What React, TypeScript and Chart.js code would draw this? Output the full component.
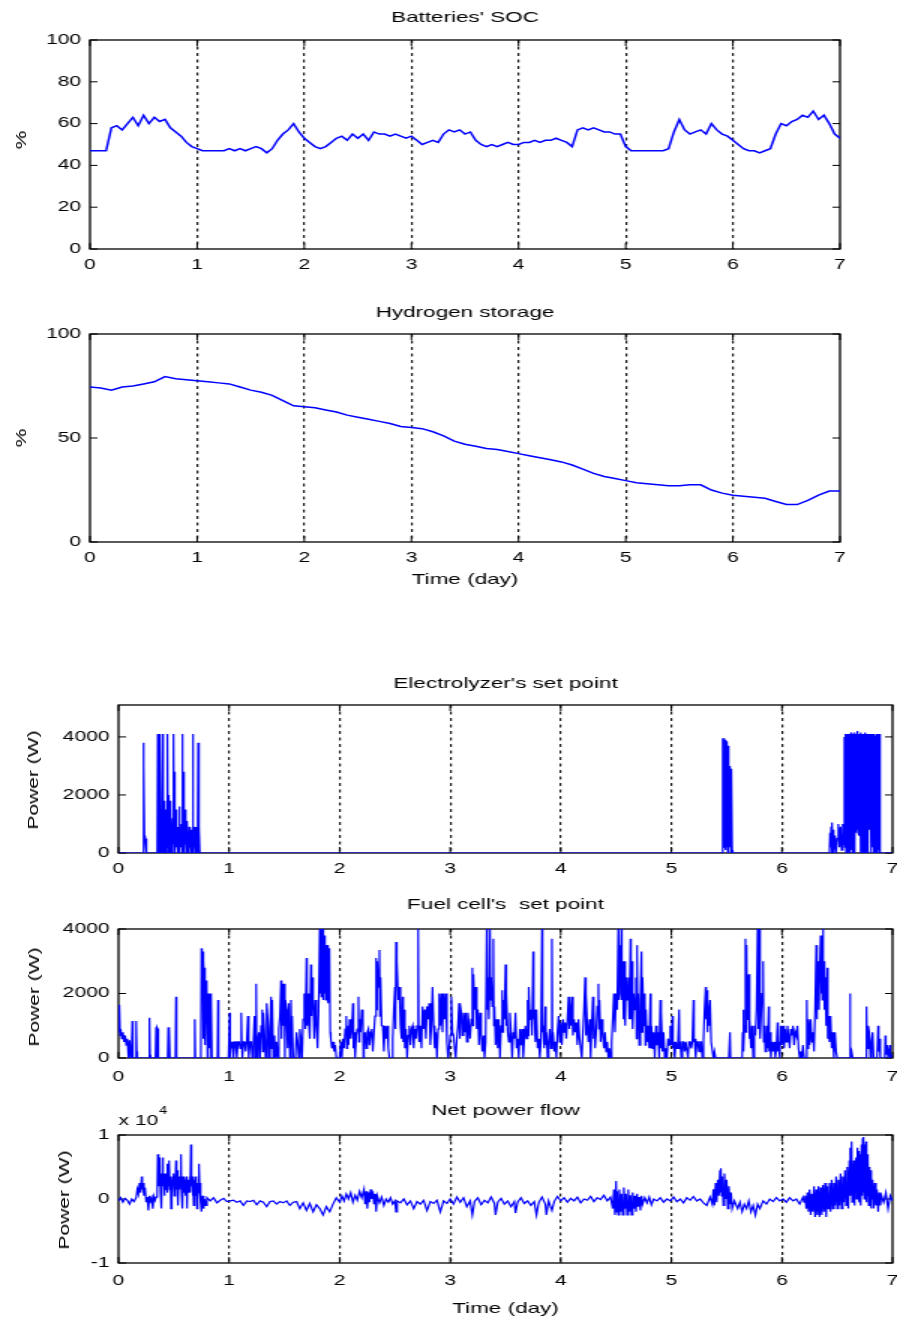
import React, { useEffect, useRef } from "react";
import { Chart, registerables } from "chart.js";

Chart.register(...registerables);

const FONT = "'Liberation Sans', Arial, Helvetica, sans-serif";
const CSS_W = 897;
const CANVAS_W = 598;
const SX = CSS_W / CANVAS_W;

// ---------------- data ----------------
const dayTicks = [0, 1, 2, 3, 4, 5, 6, 7];

const socStep = 0.05; // day
const socValues = [
  47, 47, 47, 47, 58, 59, 57, 60, 63, 59, 64, 60, 63, 61, 62, 58, 56, 54, 51, 49,
  48, 47, 47, 47, 47, 47, 48, 47, 48, 47, 48, 49, 48, 46, 48, 52, 55, 57, 60, 56,
  53, 51, 49, 48, 49, 51, 53, 54, 52, 55, 53, 55, 52, 56, 55, 55, 54, 55, 54, 53,
  54, 52, 50, 51, 52, 51, 55, 57, 56, 57, 55, 56, 52, 50, 49, 50, 49, 50, 51, 50,
  50, 51, 51, 52, 51, 52, 52, 53, 52, 51, 49, 57, 58, 57, 58, 57, 56, 56, 55, 55,
  49, 47, 47, 47, 47, 47, 47, 47, 48, 56, 62, 57, 55, 56, 57, 55, 60, 57, 55, 54,
  52, 50, 48, 47, 47, 46, 47, 48, 55, 60, 59, 61, 62, 64, 63, 66, 62, 64, 60, 55,
  53,
];

const h2Step = 0.1; // day
const h2Values = [
  74.5, 74, 73, 74.5, 75, 76, 77, 79.5, 78.5, 78,
  77.5, 77, 76.5, 76, 74.5, 73, 72, 70.5, 68, 65.5,
  65, 64.5, 63.5, 62.5, 61, 60, 59, 58, 57, 55.5,
  55, 54.5, 53, 51, 48.5, 47, 46, 45, 44.5, 43.5,
  42.5, 41.5, 40.5, 39.5, 38.5, 37, 35, 33, 31.5, 30.5,
  29.5, 28.5, 28, 27.5, 27, 27, 27.5, 27.5, 25, 23.5,
  22.5, 22, 21.5, 21, 19.5, 18, 18, 20, 22.5, 24.5,
  24.5,
];

// [day, W]
const elecSamples = [
  [0, 0], [0.22, 0], [0.225, 3800], [0.23, 3000], [0.235, 500], [0.24, 600], [0.245, 300], [0.25, 500], [0.255, 0],
  [0.35, 0], [0.355, 4100], [0.358, 0], [0.36, 600], [0.365, 4100], [0.368, 300], [0.37, 2900], [0.375, 4100], [0.378, 0],
  [0.38, 500], [0.385, 1200], [0.388, 0], [0.39, 600], [0.4, 4100], [0.403, 0], [0.405, 700], [0.41, 1800], [0.415, 0],
  [0.42, 500], [0.425, 0], [0.43, 1500], [0.435, 200], [0.44, 400], [0.445, 4100], [0.448, 0], [0.45, 2000], [0.455, 300],
  [0.46, 900], [0.465, 0], [0.47, 1800], [0.475, 200], [0.48, 600], [0.485, 0], [0.49, 1200], [0.495, 300], [0.5, 4100],
  [0.503, 0], [0.505, 2800], [0.51, 1100], [0.515, 0], [0.52, 1500], [0.525, 200], [0.53, 500], [0.535, 0], [0.54, 900],
  [0.545, 100], [0.55, 1600], [0.555, 0], [0.56, 700], [0.565, 200], [0.57, 1000], [0.575, 0], [0.58, 4100], [0.583, 0],
  [0.585, 2800], [0.59, 1200], [0.595, 0], [0.6, 1500], [0.605, 300], [0.61, 800], [0.615, 0], [0.62, 1100], [0.625, 100],
  [0.63, 600], [0.635, 0], [0.64, 900], [0.645, 200], [0.65, 500], [0.655, 0], [0.66, 800], [0.665, 100], [0.67, 300],
  [0.675, 4100], [0.678, 0], [0.68, 900], [0.685, 200], [0.69, 700], [0.695, 0], [0.7, 900], [0.705, 100], [0.71, 600],
  [0.715, 0], [0.72, 3800], [0.725, 1600], [0.728, 0], [0.73, 900], [0.735, 0],
  [5.46, 0], [5.465, 3950], [5.47, 200], [5.475, 3950], [5.48, 300], [5.485, 3900], [5.49, 100], [5.495, 3850], [5.5, 200],
  [5.505, 3800], [5.51, 0], [5.515, 3700], [5.52, 100], [5.525, 3000], [5.53, 200], [5.535, 2900], [5.54, 0], [5.545, 2900],
  [5.55, 100], [5.555, 0],
  [6.43, 0], [6.435, 700], [6.44, 200], [6.445, 900], [6.45, 0], [6.455, 1050], [6.46, 300], [6.465, 800], [6.47, 0],
  [6.48, 600], [6.49, 0], [6.5, 500], [6.51, 1000], [6.52, 200], [6.53, 900], [6.54, 100], [6.55, 1000], [6.56, 300],
  [6.565, 4000], [6.57, 200], [6.575, 4100], [6.58, 0], [6.585, 4100], [6.59, 100], [6.595, 4100], [6.6, 0], [6.605, 4100],
  [6.61, 200], [6.615, 4100], [6.62, 0], [6.625, 4150], [6.63, 100], [6.635, 4100], [6.64, 0], [6.645, 4100], [6.65, 300],
  [6.655, 4150], [6.66, 0], [6.665, 4100], [6.67, 700], [6.675, 4100], [6.68, 800], [6.685, 4200], [6.69, 700], [6.695, 4100],
  [6.7, 600], [6.705, 4100], [6.71, 0], [6.715, 4150], [6.72, 100], [6.725, 4100], [6.73, 0], [6.735, 4100], [6.74, 200],
  [6.745, 4100], [6.75, 0], [6.755, 4150], [6.76, 100], [6.765, 4100], [6.77, 0], [6.775, 4100], [6.78, 700], [6.785, 4100],
  [6.79, 800], [6.795, 4100], [6.8, 1600], [6.805, 4100], [6.81, 0], [6.815, 4100], [6.82, 200], [6.825, 4100], [6.83, 0],
  [6.835, 4100], [6.84, 100], [6.845, 4050], [6.85, 0], [6.855, 4100], [6.86, 0], [6.865, 4100], [6.87, 100], [6.875, 4050],
  [6.88, 0], [6.885, 4100], [6.89, 0], [7, 0],
];

const fuelSamples = [
  [0, 1650], [0.005, 800], [0.01, 1650], [0.015, 700], [0.02, 900], [0.03, 600], [0.04, 800], [0.05, 500], [0.06, 700],
  [0.07, 400], [0.08, 600], [0.09, 0], [0.1, 550], [0.11, 0], [0.12, 500], [0.125, 1150], [0.13, 0], [0.155, 0],
  [0.16, 1150], [0.165, 200], [0.17, 0], [0.275, 0], [0.28, 1250], [0.285, 100], [0.29, 0], [0.335, 0], [0.34, 950],
  [0.345, 0], [0.35, 950], [0.355, 900], [0.36, 0], [0.445, 0], [0.45, 950], [0.455, 0], [0.46, 950], [0.465, 0],
  [0.515, 0], [0.52, 1900], [0.525, 0], [0.685, 0], [0.69, 1200], [0.695, 0], [0.745, 0], [0.75, 3400], [0.755, 2200],
  [0.76, 3300], [0.765, 600], [0.77, 3000], [0.775, 2500], [0.78, 2800], [0.785, 400], [0.79, 2400], [0.795, 2100],
  [0.8, 2300], [0.805, 0], [0.81, 2000], [0.815, 1800], [0.82, 2000], [0.825, 300], [0.83, 2000], [0.835, 0], [0.84, 1900],
  [0.845, 0], [0.895, 0], [0.9, 1800], [0.905, 0], [0.995, 0],
  [1.0, 0], [1.005, 1400], [1.01, 0], [1.02, 500], [1.03, 300], [1.035, 500], [1.04, 0], [1.05, 500], [1.06, 500], [1.07, 0],
  [1.08, 500], [1.09, 500], [1.1, 300], [1.11, 1400], [1.115, 500], [1.12, 0], [1.13, 500], [1.14, 500], [1.15, 200],
  [1.16, 500], [1.17, 1300], [1.175, 500], [1.18, 0], [1.19, 500], [1.2, 500], [1.21, 0], [1.22, 500], [1.23, 1300],
  [1.24, 0], [1.245, 2300], [1.25, 0], [1.26, 500], [1.27, 800], [1.28, 0], [1.29, 1000], [1.3, 1500], [1.305, 200],
  [1.31, 1400], [1.32, 800], [1.33, 0], [1.34, 1700], [1.35, 1200], [1.36, 0], [1.37, 900], [1.38, 1900], [1.385, 300],
  [1.39, 1800], [1.4, 0], [1.41, 700], [1.42, 0], [1.43, 500], [1.44, 0], [1.45, 900], [1.46, 1300], [1.47, 2400],
  [1.475, 600], [1.48, 2300], [1.49, 1000], [1.5, 2300], [1.505, 0], [1.51, 1800], [1.52, 1500], [1.53, 300], [1.54, 1700],
  [1.55, 0], [1.56, 1800], [1.565, 400], [1.57, 1300], [1.58, 0], [1.6, 0], [1.61, 800], [1.62, 500], [1.63, 0], [1.64, 900],
  [1.65, 600], [1.66, 0], [1.67, 1200], [1.68, 2000], [1.69, 900], [1.7, 3100], [1.705, 1000], [1.71, 2000], [1.72, 1200],
  [1.73, 600], [1.74, 2900], [1.745, 1300], [1.75, 2500], [1.76, 1800], [1.77, 600], [1.78, 1800], [1.79, 1000], [1.8, 300],
  [1.81, 1500], [1.82, 4000], [1.825, 2000], [1.83, 4000], [1.835, 1900], [1.84, 4000], [1.845, 2200], [1.85, 4000],
  [1.855, 1800], [1.86, 3800], [1.865, 2000], [1.87, 3600], [1.875, 1800], [1.88, 3500], [1.885, 1900], [1.89, 3500],
  [1.895, 1700], [1.9, 3400], [1.905, 1800], [1.91, 3400], [1.915, 800], [1.92, 600], [1.93, 300], [1.94, 500], [1.95, 200],
  [1.96, 400], [1.97, 0],
  [2.0, 0], [2.01, 500], [2.02, 0], [2.03, 600], [2.04, 300], [2.05, 900], [2.06, 1300], [2.065, 300], [2.07, 1000],
  [2.08, 400], [2.09, 1200], [2.1, 600], [2.11, 900], [2.12, 1700], [2.125, 300], [2.13, 800], [2.14, 0], [2.15, 700],
  [2.16, 900], [2.17, 1900], [2.175, 500], [2.18, 1200], [2.19, 800], [2.2, 1500], [2.21, 1200], [2.215, 0], [2.22, 500],
  [2.23, 800], [2.24, 300], [2.25, 800], [2.26, 900], [2.27, 400], [2.28, 800], [2.29, 900], [2.3, 200], [2.31, 800],
  [2.32, 1300], [2.33, 3100], [2.335, 1500], [2.34, 3000], [2.35, 2200], [2.36, 3350], [2.365, 1300], [2.37, 2500],
  [2.38, 1000], [2.39, 1000], [2.4, 200], [2.41, 1000], [2.42, 600], [2.43, 1000], [2.44, 300], [2.45, 0], [2.47, 0],
  [2.48, 600], [2.49, 1500], [2.5, 2200], [2.505, 900], [2.51, 3600], [2.515, 2200], [2.52, 3000], [2.53, 1800], [2.54, 2200],
  [2.55, 1000], [2.56, 600], [2.57, 1900], [2.575, 500], [2.58, 1500], [2.59, 300], [2.6, 900], [2.61, 0], [2.62, 700],
  [2.63, 1000], [2.64, 400], [2.65, 900], [2.66, 1000], [2.67, 300], [2.68, 900], [2.69, 600], [2.7, 1000], [2.71, 4000],
  [2.715, 700], [2.72, 500], [2.73, 1000], [2.74, 300], [2.75, 1600], [2.76, 900], [2.77, 1500], [2.78, 600], [2.79, 1600],
  [2.8, 1200], [2.81, 1700], [2.82, 400], [2.83, 1000], [2.84, 2200], [2.85, 1000], [2.86, 300], [2.87, 800], [2.88, 0],
  [2.89, 900], [2.9, 2000], [2.91, 1000], [2.92, 2000], [2.93, 800], [2.94, 2000], [2.95, 1200], [2.96, 2000], [2.97, 500],
  [2.98, 0], [2.99, 300],
  [3.0, 700], [3.01, 1900], [3.02, 800], [3.03, 700], [3.04, 300], [3.05, 0], [3.06, 600], [3.07, 1000], [3.08, 1700],
  [3.085, 600], [3.09, 1700], [3.1, 1400], [3.11, 700], [3.12, 1400], [3.13, 800], [3.14, 1400], [3.15, 500], [3.16, 1400],
  [3.17, 1000], [3.18, 600], [3.19, 1200], [3.2, 2800], [3.205, 1000], [3.21, 2600], [3.22, 1500], [3.23, 2200], [3.24, 900],
  [3.25, 1500], [3.26, 400], [3.27, 1400], [3.28, 700], [3.29, 200], [3.3, 700], [3.31, 0], [3.32, 500], [3.33, 4000],
  [3.335, 1500], [3.34, 2500], [3.35, 1200], [3.36, 4000], [3.365, 1800], [3.37, 2500], [3.38, 1600], [3.39, 3700],
  [3.395, 1000], [3.4, 1600], [3.41, 400], [3.42, 1200], [3.43, 300], [3.44, 1200], [3.45, 0], [3.46, 1000], [3.47, 2100],
  [3.475, 800], [3.48, 1800], [3.49, 1200], [3.5, 2900], [3.505, 1000], [3.51, 2000], [3.52, 800], [3.53, 500], [3.54, 1400],
  [3.55, 800], [3.56, 0], [3.57, 800], [3.58, 600], [3.59, 1400], [3.6, 300], [3.61, 600], [3.62, 0], [3.63, 900],
  [3.64, 400], [3.65, 900], [3.66, 0], [3.67, 600], [3.68, 1000], [3.69, 600], [3.7, 1800], [3.705, 700], [3.71, 2200],
  [3.72, 1200], [3.73, 1500], [3.74, 700], [3.75, 3300], [3.755, 1200], [3.76, 1500], [3.77, 500], [3.78, 1500], [3.79, 300],
  [3.8, 600], [3.81, 0], [3.82, 500], [3.83, 4000], [3.835, 800], [3.84, 1000], [3.85, 300], [3.86, 1600], [3.865, 400],
  [3.87, 800], [3.88, 0], [3.89, 500], [3.9, 900], [3.91, 300], [3.92, 3700], [3.925, 400], [3.93, 800], [3.94, 200],
  [3.95, 500], [3.96, 0], [3.97, 800], [3.98, 1300], [3.99, 500],
  [4.0, 1100], [4.01, 400], [4.02, 1200], [4.03, 800], [4.04, 1100], [4.05, 600], [4.06, 1200], [4.07, 1900], [4.075, 900],
  [4.08, 1800], [4.09, 1000], [4.1, 1900], [4.11, 700], [4.12, 1200], [4.13, 800], [4.14, 1100], [4.15, 400], [4.16, 1200],
  [4.17, 600], [4.18, 300], [4.19, 0], [4.2, 800], [4.21, 1500], [4.22, 2500], [4.225, 700], [4.23, 2000], [4.24, 1000],
  [4.25, 500], [4.26, 1200], [4.27, 0], [4.28, 1000], [4.29, 1900], [4.295, 600], [4.3, 1500], [4.31, 300], [4.32, 800],
  [4.33, 1600], [4.34, 2300], [4.345, 900], [4.35, 1800], [4.36, 500], [4.37, 1200], [4.38, 700], [4.39, 300], [4.4, 800],
  [4.41, 200], [4.42, 500], [4.43, 0], [4.44, 300], [4.45, 0], [4.46, 500], [4.47, 1200], [4.48, 2000], [4.49, 800],
  [4.5, 2000], [4.51, 1500], [4.52, 4000], [4.525, 1800], [4.53, 4000], [4.535, 2500], [4.54, 3500], [4.545, 2000],
  [4.55, 4000], [4.555, 1800], [4.56, 3000], [4.565, 1200], [4.57, 2500], [4.575, 1600], [4.58, 3000], [4.585, 1000],
  [4.59, 2500], [4.6, 1800], [4.61, 2500], [4.62, 1200], [4.63, 3700], [4.635, 1200], [4.64, 3000], [4.65, 900],
  [4.66, 2000], [4.67, 1500], [4.68, 2500], [4.685, 600], [4.69, 3500], [4.695, 900], [4.7, 2000], [4.71, 400], [4.72, 1800],
  [4.73, 3300], [4.735, 800], [4.74, 2500], [4.75, 1000], [4.76, 2000], [4.765, 400], [4.77, 1500], [4.78, 500], [4.79, 1000],
  [4.8, 300], [4.81, 2000], [4.815, 300], [4.82, 1000], [4.83, 300], [4.84, 800], [4.85, 0], [4.86, 1000], [4.87, 400],
  [4.88, 800], [4.89, 0], [4.9, 1800], [4.905, 300], [4.91, 1400], [4.92, 200], [4.93, 800], [4.94, 0], [4.95, 300],
  [4.96, 0], [4.97, 600], [4.98, 400], [4.99, 1000],
  [5.0, 400], [5.01, 1300], [5.015, 300], [5.02, 500], [5.03, 0], [5.04, 500], [5.05, 300], [5.06, 500], [5.07, 1500],
  [5.075, 300], [5.08, 500], [5.09, 0], [5.1, 500], [5.11, 500], [5.12, 200], [5.13, 500], [5.14, 500], [5.15, 0],
  [5.16, 500], [5.17, 500], [5.18, 300], [5.19, 500], [5.2, 1800], [5.205, 500], [5.21, 600], [5.22, 0], [5.23, 500],
  [5.24, 500], [5.25, 200], [5.26, 500], [5.27, 500], [5.28, 0], [5.29, 500], [5.3, 1500], [5.31, 2200], [5.315, 1200],
  [5.32, 2100], [5.325, 800], [5.33, 1800], [5.34, 1000], [5.35, 1800], [5.36, 500], [5.37, 500], [5.38, 0], [5.39, 200],
  [5.4, 0], [5.52, 0], [5.53, 800], [5.535, 0], [5.64, 0], [5.645, 800], [5.65, 1500], [5.655, 200], [5.66, 1000],
  [5.67, 3700], [5.675, 800], [5.68, 3500], [5.685, 1200], [5.69, 2000], [5.7, 2600], [5.705, 600], [5.71, 1200], [5.72, 300],
  [5.73, 1000], [5.74, 0], [5.75, 1000], [5.76, 700], [5.77, 1500], [5.78, 4000], [5.785, 900], [5.79, 4000], [5.795, 1500],
  [5.8, 4000], [5.805, 600], [5.81, 1200], [5.82, 2000], [5.83, 3000], [5.835, 500], [5.84, 1000], [5.85, 200], [5.86, 1000],
  [5.87, 300], [5.88, 1600], [5.885, 200], [5.89, 800], [5.9, 0], [5.91, 500], [5.92, 200], [5.93, 500], [5.94, 0],
  [5.95, 300], [5.96, 1100], [5.965, 200], [5.97, 500], [5.98, 0], [5.99, 1000],
  [6.0, 400], [6.01, 1000], [6.02, 300], [6.03, 900], [6.04, 500], [6.05, 1000], [6.06, 700], [6.07, 300], [6.08, 900],
  [6.09, 700], [6.1, 1000], [6.11, 400], [6.12, 800], [6.13, 700], [6.14, 1000], [6.15, 300], [6.16, 0], [6.17, 200],
  [6.18, 0], [6.19, 400], [6.2, 0], [6.22, 0], [6.225, 1800], [6.23, 300], [6.24, 1200], [6.25, 400], [6.26, 1200],
  [6.27, 500], [6.28, 800], [6.29, 200], [6.3, 1500], [6.31, 3500], [6.315, 1200], [6.32, 2000], [6.33, 3000], [6.335, 1500],
  [6.34, 2500], [6.35, 3800], [6.355, 2000], [6.36, 3200], [6.365, 1800], [6.37, 4000], [6.375, 2000], [6.38, 3000],
  [6.385, 1500], [6.39, 2500], [6.4, 1000], [6.41, 2800], [6.415, 600], [6.42, 1300], [6.43, 500], [6.44, 1300], [6.45, 300],
  [6.46, 800], [6.47, 0], [6.48, 800], [6.49, 200], [6.5, 0], [6.61, 0], [6.615, 2000], [6.62, 0], [6.63, 200], [6.64, 0],
  [6.76, 0], [6.765, 1600], [6.77, 300], [6.78, 1000], [6.79, 800], [6.8, 0], [6.81, 500], [6.82, 800], [6.83, 0],
  [6.86, 0], [6.87, 1000], [6.875, 200], [6.88, 600], [6.89, 0], [6.93, 0], [6.935, 700], [6.94, 100], [6.95, 400],
  [6.96, 0], [6.975, 400], [6.98, 0], [7, 100],
];

const netSamples = [
  [0, -300], [0.02, 200], [0.04, -500], [0.06, 100], [0.08, -200], [0.1, -800], [0.12, 0], [0.14, -400], [0.16, 200],
  [0.17, 1500], [0.18, 800], [0.19, 2500], [0.2, 1000], [0.21, 3500], [0.215, 1500], [0.22, 2500], [0.23, 500], [0.24, 1800],
  [0.25, -500], [0.26, 300], [0.27, -1800], [0.28, 500], [0.29, -300], [0.3, 200], [0.31, -1500], [0.32, 400], [0.33, -200],
  [0.34, 300], [0.35, 500], [0.355, 7000], [0.36, 2000], [0.365, 6800], [0.37, 3000], [0.375, 6500], [0.38, 1000],
  [0.385, 4000], [0.39, -1500], [0.395, 3500], [0.4, 6500], [0.405, 2000], [0.41, 4000], [0.415, 500], [0.42, 3500],
  [0.425, 1500], [0.43, 4000], [0.435, 2500], [0.44, 5500], [0.445, 1000], [0.45, 3500], [0.455, 2000], [0.46, 6000],
  [0.465, 1500], [0.47, 3500], [0.475, -1500], [0.48, 3000], [0.485, 1000], [0.49, 3500], [0.495, 2000], [0.5, 4000],
  [0.505, 500], [0.51, 3500], [0.515, 2000], [0.52, 6000], [0.525, 1500], [0.53, 3500], [0.535, 4500], [0.54, -1000],
  [0.545, 3000], [0.55, 1500], [0.555, 3500], [0.56, 2000], [0.565, 7000], [0.57, 1000], [0.575, 3500], [0.58, -1500],
  [0.585, 3000], [0.59, 1000], [0.595, 3500], [0.6, 2000], [0.605, 3000], [0.61, 500], [0.615, 3500], [0.62, -1500],
  [0.625, 3000], [0.63, 1000], [0.635, 3000], [0.64, 2000], [0.645, 3500], [0.65, 1000], [0.655, 8500], [0.66, 2000],
  [0.665, 3500], [0.67, 500], [0.675, 3000], [0.68, -1000], [0.685, 3000], [0.69, 1500], [0.695, 3500], [0.7, 500],
  [0.705, 3000], [0.71, -1500], [0.715, 2500], [0.72, 1000], [0.725, 3000], [0.73, 5500], [0.735, 1000], [0.74, 2500],
  [0.745, -500], [0.75, -2000], [0.76, 500], [0.77, -1500], [0.78, 0], [0.79, -1000], [0.8, 200],
  [0.83, -300], [0.86, 200], [0.89, -600], [0.92, -200], [0.95, 100], [0.98, -400], [1.01, -300], [1.04, -200], [1.07, -500],
  [1.1, -300], [1.13, -1000], [1.16, -300], [1.19, -400], [1.22, -200], [1.25, -900], [1.28, -300], [1.31, -500],
  [1.34, -1200], [1.37, -400], [1.4, -300], [1.43, -800], [1.46, -400], [1.49, -600], [1.52, -300], [1.55, -1000],
  [1.58, -500], [1.61, -400], [1.64, -1500], [1.67, -600], [1.7, -1800], [1.73, -700], [1.76, -2000], [1.79, -900],
  [1.82, -1500], [1.85, -2500], [1.88, -1200], [1.91, -2000], [1.94, -800], [1.97, 200],
  [2.0, -500], [2.02, 500], [2.04, -300], [2.06, 800], [2.08, 0], [2.1, 1000], [2.12, -500], [2.14, 600], [2.16, -200],
  [2.18, 1200], [2.2, 200], [2.22, 1500], [2.23, -800], [2.24, 1200], [2.25, -1500], [2.26, 1000], [2.27, -500], [2.28, 1500],
  [2.29, 0], [2.3, 1200], [2.31, -800], [2.32, 800], [2.33, -2000], [2.34, 500], [2.36, -600], [2.38, 300], [2.4, -1000],
  [2.42, 0], [2.44, -500], [2.46, 200], [2.48, -800], [2.5, -300], [2.51, -2000], [2.52, -300], [2.55, -600], [2.58, 0],
  [2.61, -900], [2.64, -300], [2.67, -1500], [2.7, -400], [2.73, -800], [2.76, -200], [2.79, -1800], [2.82, -400],
  [2.85, -700], [2.88, -200], [2.91, -2000], [2.94, -300], [2.97, -700],
  [3.0, 0], [3.03, -800], [3.06, 300], [3.09, -500], [3.12, 200], [3.15, -1200], [3.18, -300], [3.2, -2500], [3.22, -400],
  [3.25, 200], [3.28, -900], [3.31, -200], [3.34, -600], [3.37, 300], [3.4, -700], [3.41, -2500], [3.43, -500], [3.46, 100],
  [3.49, -800], [3.52, -300], [3.55, -1200], [3.58, -400], [3.59, -2200], [3.61, -500], [3.64, 200], [3.67, -700],
  [3.7, -300], [3.73, -1000], [3.76, -400], [3.78, -2500], [3.8, -600], [3.83, 300], [3.86, -800], [3.87, -2500],
  [3.89, -300], [3.92, -1800], [3.94, -400], [3.97, 400],
  [4.0, -300], [4.03, 200], [4.06, -500], [4.09, 100], [4.12, -300], [4.15, 300], [4.18, -600], [4.21, 0], [4.24, -200],
  [4.27, 400], [4.3, -400], [4.33, 200], [4.36, -100], [4.39, 600], [4.42, -300], [4.45, 300], [4.47, -1500], [4.48, 1500],
  [4.49, -2500], [4.5, 2800], [4.505, -2000], [4.51, 1200], [4.52, -2500], [4.53, 1500], [4.54, -2000], [4.55, 800],
  [4.56, -2500], [4.57, 1800], [4.58, -1500], [4.59, 800], [4.6, -2500], [4.61, 1500], [4.62, -2000], [4.63, 600],
  [4.64, -2500], [4.65, 1000], [4.66, -1500], [4.67, 500], [4.68, -2000], [4.69, 800], [4.7, -1200], [4.71, 300],
  [4.72, -1800], [4.73, 500], [4.74, -800], [4.76, 200], [4.78, -600], [4.8, 300], [4.82, -900], [4.84, 0],
  [4.87, -300], [4.9, 200], [4.93, -500], [4.96, 0], [4.99, -300], [5.02, 300], [5.05, -400], [5.08, 0], [5.11, -600],
  [5.14, 200], [5.17, -200], [5.2, 400], [5.23, -300], [5.26, 0], [5.29, -600], [5.32, -1000], [5.35, 300], [5.37, -800],
  [5.38, 1500], [5.39, -1000], [5.4, 2500], [5.41, -500], [5.42, 3000], [5.43, 500], [5.44, 4500], [5.445, 1000],
  [5.45, 4800], [5.455, 500], [5.46, 3500], [5.47, -1000], [5.48, 4000], [5.49, 0], [5.5, 3000], [5.51, -1500], [5.52, 2000],
  [5.53, -800], [5.54, 1000], [5.55, -1500], [5.57, -300], [5.6, -1500], [5.62, -500], [5.64, -2000], [5.66, -800],
  [5.68, -1500], [5.7, -300], [5.72, -2000], [5.74, -1000], [5.76, -2500], [5.78, -800], [5.8, -1500], [5.83, -300],
  [5.86, -800], [5.89, 0], [5.92, -400], [5.95, 200], [5.98, -300], [6.01, 0], [6.04, -500], [6.07, 200], [6.1, -300],
  [6.13, 0], [6.16, -800], [6.19, 300],
  [6.2, -500], [6.21, 500], [6.22, -1500], [6.23, 1000], [6.24, -2000], [6.25, 1500], [6.26, -2500], [6.27, 800],
  [6.28, -2000], [6.29, 2000], [6.3, -2800], [6.31, 1500], [6.32, -2500], [6.33, 2000], [6.34, -2800], [6.35, 1800],
  [6.36, -2500], [6.37, 2200], [6.38, -2000], [6.39, 2500], [6.4, -2800], [6.41, 2000], [6.42, -1500], [6.43, 2500],
  [6.44, -2000], [6.45, 3000], [6.46, -1500], [6.47, 2500], [6.48, -1000], [6.49, 3500], [6.5, -1500], [6.51, 3000],
  [6.52, -1000], [6.53, 4000], [6.54, -1500], [6.55, 3500], [6.56, -500], [6.57, 4500], [6.58, -1000], [6.59, 5000],
  [6.6, -1500], [6.61, 6000], [6.615, 500], [6.62, 8000], [6.625, 1000], [6.63, 9000], [6.635, -500], [6.64, 5500],
  [6.645, 500], [6.65, 6000], [6.655, -1000], [6.66, 5000], [6.665, 1000], [6.67, 6500], [6.675, 0], [6.68, 8000],
  [6.685, 1000], [6.69, 7500], [6.695, -500], [6.7, 6000], [6.705, 1000], [6.71, 7000], [6.715, -1000], [6.72, 8500],
  [6.725, 500], [6.73, 9500], [6.735, 1000], [6.74, 9700], [6.745, 0], [6.75, 8500], [6.755, 1000], [6.76, 9000],
  [6.765, -500], [6.77, 7000], [6.775, 500], [6.78, 6000], [6.785, -1000], [6.79, 5000], [6.795, 500], [6.8, 4500],
  [6.805, -1500], [6.81, 3500], [6.815, 0], [6.82, 3000], [6.83, -1500], [6.84, 2500], [6.85, -1000], [6.86, 1500],
  [6.87, -2000], [6.88, 1000], [6.89, -1000], [6.9, 500], [6.92, -500], [6.94, 1000], [6.96, -1500], [6.98, 500], [7, -300],
];

const socTicks = [0, 20, 40, 60, 80, 100];
const h2Ticks = [0, 50, 100];
const powerTicks = [0, 2000, 4000];
const netTicks = [-10000, 0, 10000];

// ---------------- helpers ----------------
const stepped = (step: number, vals: number[]) => vals.map((v, i) => ({ x: +(i * step).toFixed(4), y: v }));
const pairs = (rows: number[][]) => rows.map((r) => ({ x: r[0], y: r[1] }));

type Panel = {
  key: string;
  top: number;
  bottom: number;
  plotTop: number;
  plotBottom: number;
  plotLeft: number;
  plotRight: number;
  title: string;
  titleY: number;
  xTitle?: string;
  xTitleY?: number;
  yMin: number;
  yMax: number;
  yTicks: number[];
  yFmt: (v: number) => string;
  yLabel: string;
  yLabelX: number;
  yLabelY: number;
  xLabelPad: number;
  points: { x: number; y: number }[];
  lineWidth: number;
  exponent?: boolean;
};

const panels: Panel[] = [
  {
    key: "soc", top: 0, bottom: 279, plotTop: 40, plotBottom: 249, plotLeft: 90, plotRight: 840,
    title: "Batteries' SOC", titleY: 18, yMin: 0, yMax: 100, yTicks: socTicks, yFmt: (v) => String(v),
    yLabel: "%", yLabelX: 21, yLabelY: 140, xLabelPad: 8, points: stepped(socStep, socValues), lineWidth: 1.5,
  },
  {
    key: "h2", top: 290, bottom: 591, plotTop: 334, plotBottom: 542, plotLeft: 90, plotRight: 840,
    title: "Hydrogen storage", titleY: 313, xTitle: "Time (day)", xTitleY: 580, yMin: 0, yMax: 100, yTicks: h2Ticks,
    yFmt: (v) => String(v), yLabel: "%", yLabelX: 21, yLabelY: 438, xLabelPad: 8, points: stepped(h2Step, h2Values), lineWidth: 1.5,
  },
  {
    key: "elec", top: 665, bottom: 885, plotTop: 705, plotBottom: 853, plotLeft: 118.5, plotRight: 892.5,
    title: "Electrolyzer's set point", titleY: 684, yMin: 0, yMax: 5100, yTicks: powerTicks, yFmt: (v) => String(v),
    yLabel: "Power (W)", yLabelX: 33, yLabelY: 780, xLabelPad: 8, points: pairs(elecSamples), lineWidth: 1.2,
  },
  {
    key: "fuel", top: 886, bottom: 1091, plotTop: 929, plotBottom: 1058, plotLeft: 118.5, plotRight: 892.5,
    title: "Fuel cell's  set point", titleY: 905, yMin: 0, yMax: 4000, yTicks: powerTicks, yFmt: (v) => String(v),
    yLabel: "Power (W)", yLabelX: 34, yLabelY: 997, xLabelPad: 11, points: pairs(fuelSamples), lineWidth: 1.2,
  },
  {
    key: "net", top: 1092, bottom: 1320, plotTop: 1135, plotBottom: 1263, plotLeft: 118.5, plotRight: 892.5,
    title: "Net power flow", titleY: 1111, xTitle: "Time (day)", xTitleY: 1309, yMin: -10000, yMax: 10000, yTicks: netTicks,
    yFmt: (v) => String(Math.round(v / 10000)), yLabel: "Power (W)", yLabelX: 64, yLabelY: 1200, xLabelPad: 10,
    points: pairs(netSamples), lineWidth: 1.2, exponent: true,
  },
];

const matlabFrame = {
  id: "matlabFrame",
  beforeDatasetsDraw(chart: any, _args: any, opts: any) {
    const { ctx, chartArea: a, scales } = chart;
    ctx.save();
    ctx.setLineDash([]);
    ctx.strokeStyle = "#000";
    ctx.lineWidth = 1.3;
    ctx.strokeRect(a.left, a.top, a.right - a.left, a.bottom - a.top);
    ctx.lineWidth = 1;
    ctx.beginPath();
    for (const t of scales.x.ticks) {
      const px = scales.x.getPixelForValue(t.value);
      ctx.moveTo(px, a.bottom);
      ctx.lineTo(px, a.bottom - 6);
      ctx.moveTo(px, a.top);
      ctx.lineTo(px, a.top + 6);
    }
    for (const t of scales.y.ticks) {
      const py = scales.y.getPixelForValue(t.value);
      ctx.moveTo(a.left, py);
      ctx.lineTo(a.left + 5, py);
      ctx.moveTo(a.right, py);
      ctx.lineTo(a.right - 5, py);
    }
    ctx.stroke();
    if (opts && opts.exponent) {
      ctx.fillStyle = "#000";
      ctx.textAlign = "left";
      ctx.textBaseline = "alphabetic";
      ctx.font = `14px ${FONT}`;
      const base = a.top - 10;
      ctx.fillText("x 10", a.left, base);
      const w = ctx.measureText("x 10").width;
      ctx.font = `10px ${FONT}`;
      ctx.fillText("4", a.left + w + 0.5, base - 11);
    }
    ctx.restore();
  },
};

function makeConfig(p: Panel): any {
  const titleLH = 18; // 15px * 1.2
  const padTop = p.titleY - titleLH / 2 - p.top;
  const titlePadBottom = p.plotTop - p.titleY - titleLH / 2;
  const leftInt = p.plotLeft / SX;
  const rightPad = CANVAS_W - p.plotRight / SX;
  const xAxisH = p.bottom - p.plotBottom;
  const xTitle = p.xTitle
    ? {
        display: true,
        text: p.xTitle,
        color: "#000",
        font: { family: FONT, size: 15 },
        padding: { top: 0, bottom: p.bottom - (p.xTitleY as number) - titleLH / 2 },
      }
    : { display: false };
  const tickFont = { family: FONT, size: 14 };
  return {
    type: "line",
    data: {
      datasets: [
        {
          data: p.points,
          borderColor: "#0000ff",
          borderWidth: p.lineWidth,
          pointRadius: 0,
          tension: 0,
          fill: false,
        },
      ],
    },
    options: {
      animation: false,
      responsive: false,
      maintainAspectRatio: false,
      devicePixelRatio: 1,
      events: [],
      parsing: false,
      layout: { autoPadding: false, padding: { left: 0, right: rightPad, top: padTop, bottom: 0 } },
      plugins: {
        legend: { display: false },
        tooltip: { enabled: false },
        title: {
          display: true,
          text: p.title,
          color: "#000",
          font: { family: FONT, size: 15, weight: "normal" },
          padding: { top: 0, bottom: titlePadBottom },
          fullSize: false,
          align: "center",
        },
        matlabFrame: { exponent: !!p.exponent },
      },
      scales: {
        x: {
          type: "linear",
          min: 0,
          max: 7,
          position: "bottom",
          afterBuildTicks: (s: any) => {
            s.ticks = dayTicks.map((v) => ({ value: v }));
          },
          afterFit: (s: any) => {
            s.height = xAxisH;
            s.paddingLeft = 0;
            s.paddingRight = 0;
          },
          ticks: {
            font: tickFont,
            color: "#000",
            padding: p.xLabelPad,
            maxRotation: 0,
            minRotation: 0,
            autoSkip: false,
            callback: (v: any) => String(v),
          },
          grid: {
            drawTicks: false,
            lineWidth: 1.2,
            color: (c: any) =>
              c.tick && c.tick.value > 0 && c.tick.value < 7 ? "#1a1a1a" : "rgba(0,0,0,0)",
          },
          border: { display: false, dash: [3, 3.5] },
          title: xTitle,
        },
        y: {
          type: "linear",
          min: p.yMin,
          max: p.yMax,
          position: "left",
          afterBuildTicks: (s: any) => {
            s.ticks = p.yTicks.map((v) => ({ value: v }));
          },
          afterFit: (s: any) => {
            s.width = leftInt;
            s.paddingTop = 0;
            s.paddingBottom = 0;
          },
          ticks: {
            font: tickFont,
            color: "#000",
            padding: 6,
            callback: (v: any) => p.yFmt(Number(v)),
          },
          grid: { display: false, drawTicks: false },
          border: { display: false },
        },
      },
    },
    plugins: [matlabFrame],
  };
}

function PanelChart({ p }: { p: Panel }) {
  const ref = useRef<HTMLCanvasElement | null>(null);
  useEffect(() => {
    const c = ref.current;
    if (!c) return;
    const chart = new Chart(c, makeConfig(p));
    return () => chart.destroy();
  }, [p]);
  const H = p.bottom - p.top;
  return (
    <>
      <canvas
        ref={ref}
        width={CANVAS_W}
        height={H}
        style={{ position: "absolute", left: 0, top: p.top, width: CSS_W, height: H }}
      />
      <div
        style={{
          position: "absolute",
          left: p.yLabelX,
          top: p.yLabelY,
          transform: "translate(-50%, -50%) rotate(-90deg) scaleX(1.5)",
          font: `14px ${FONT}`,
          lineHeight: 1,
          whiteSpace: "nowrap",
          color: "#000",
        }}
      >
        {p.yLabel}
      </div>
    </>
  );
}

export default function App() {
  return (
    <div
      style={{
        position: "absolute",
        left: 0,
        top: 0,
        width: CSS_W,
        height: 1321,
        background: "#fff",
        overflow: "hidden",
      }}
    >
      {panels.map((p) => (
        <PanelChart key={p.key} p={p} />
      ))}
    </div>
  );
}
